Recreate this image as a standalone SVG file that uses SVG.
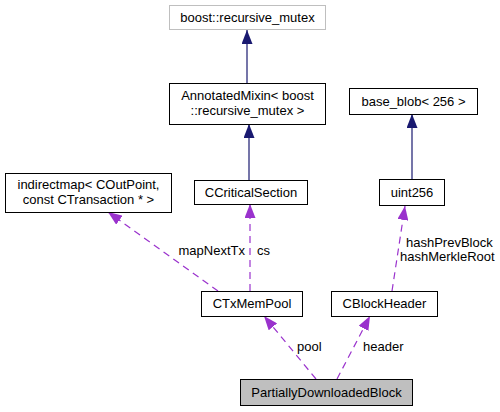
<svg xmlns="http://www.w3.org/2000/svg" width="500" height="412" viewBox="0 0 500 412">
<style>
.n rect{fill:#fff;stroke:#000;stroke-width:1}
text{font-family:"Liberation Sans",Arial,sans-serif;font-size:13px;fill:#000}
.c{text-anchor:middle}
.inh{stroke:#191970;stroke-width:1.2;fill:none}
.use{stroke:#9a32cd;stroke-width:1.2;fill:none;stroke-dasharray:7,5}
</style>
<defs>
<marker id="an" markerWidth="14" markerHeight="11" refX="14" refY="5.5" orient="auto" markerUnits="userSpaceOnUse" viewBox="0 0 14 11"><path d="M0,0 L14,5.5 L0,11 z" fill="#191970"/></marker>
<marker id="ap" markerWidth="14" markerHeight="11" refX="14" refY="5.5" orient="auto" markerUnits="userSpaceOnUse" viewBox="0 0 14 11"><path d="M0,0 L14,5.5 L0,11 z" fill="#9a32cd"/></marker>
</defs>
<rect width="500" height="412" fill="#fff"/>
<g id="edges">
<path class="inh" d="M247,83 L247,30" marker-end="url(#an)"/>
<path class="inh" d="M249,180 L249,124" marker-end="url(#an)"/>
<path class="inh" d="M412,179 L412,114" marker-end="url(#an)"/>
<path class="use" d="M250,291 L250,204" marker-end="url(#ap)"/>
<path class="use" d="M218,291 L108,212" marker-end="url(#ap)"/>
<path class="use" d="M392,291 L405,206" marker-end="url(#ap)"/>
<path class="use" d="M316,379 L264,316" marker-end="url(#ap)"/>
<path class="use" d="M337,379 L370,316" marker-end="url(#ap)"/>
<text x="245" y="255" style="text-anchor:end">mapNextTx</text>
<text x="257" y="255">cs</text>
<text x="406" y="247">hashPrevBlock</text>
<text x="400" y="261">hashMerkleRoot</text>
<text x="297" y="351">pool</text>
<text x="363" y="351">header</text>
</g>
<g id="boost_recursive_mutex" class="n"><rect x="169.5" y="5.5" width="156" height="24" style="stroke:#bfbfbf"/><text class="c" x="247.5" y="22">boost::recursive_mutex</text></g>
<g id="AnnotatedMixin" class="n"><rect x="169.5" y="83.5" width="156" height="41"/><text class="c" x="247.5" y="100">AnnotatedMixin&lt; boost</text><text class="c" x="247.5" y="115">::recursive_mutex &gt;</text></g>
<g id="CCriticalSection" class="n"><rect x="194.5" y="180.5" width="113" height="24"/><text class="c" x="251" y="197">CCriticalSection</text></g>
<g id="indirectmap" class="n"><rect x="5.5" y="173.5" width="166" height="39"/><text class="c" x="88.5" y="189">indirectmap&lt; COutPoint,</text><text class="c" x="88.5" y="204">const CTransaction * &gt;</text></g>
<g id="base_blob" class="n"><rect x="349.5" y="88.5" width="128" height="26"/><text class="c" x="413.5" y="106">base_blob&lt; 256 &gt;</text></g>
<g id="uint256" class="n"><rect x="379.5" y="179.5" width="65" height="26"/><text class="c" x="412" y="197">uint256</text></g>
<g id="CTxMemPool" class="n"><rect x="201.5" y="291.5" width="101" height="25"/><text class="c" x="252" y="308">CTxMemPool</text></g>
<g id="CBlockHeader" class="n"><rect x="331.5" y="291.5" width="106" height="25"/><text class="c" x="384.5" y="308">CBlockHeader</text></g>
<g id="PartiallyDownloadedBlock" class="n"><rect x="240.5" y="379.5" width="172" height="26" style="fill:#bfbfbf"/><text class="c" x="326.5" y="397">PartiallyDownloadedBlock</text></g>
</svg>
